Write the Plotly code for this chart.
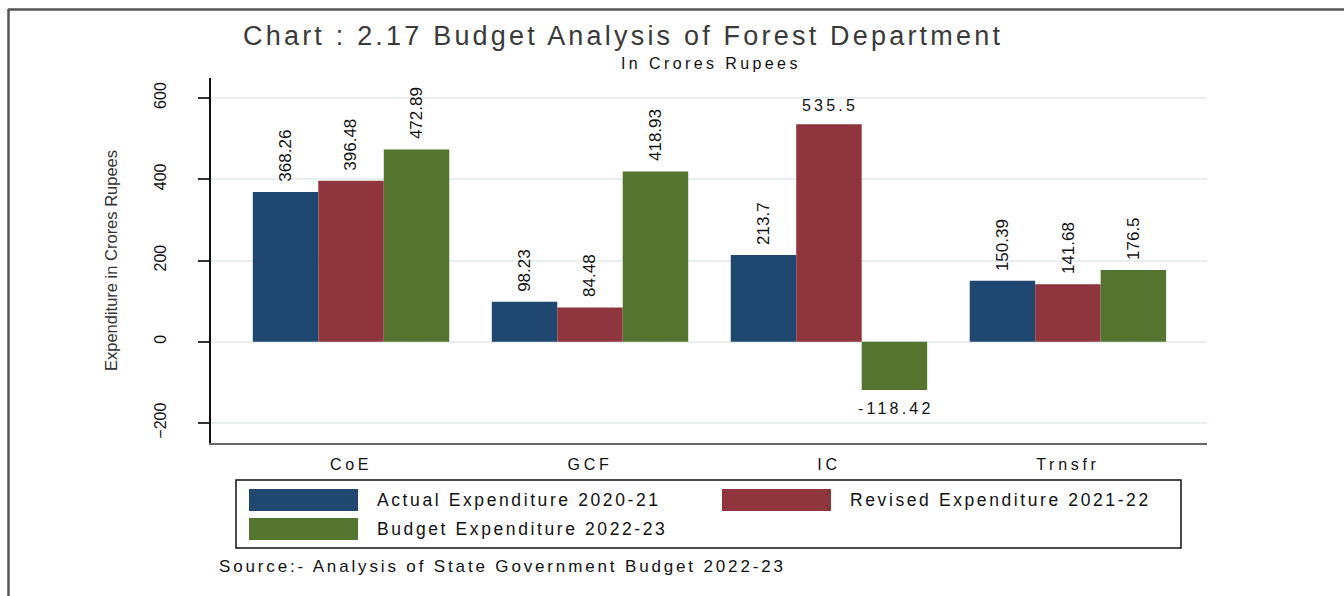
import plotly.graph_objects as go

# Budget heads and expenditure figures (in crores rupees)
categories = ["CoE", "GCF", "IC", "Trnsfr"]
series_names = [
    "Actual Expenditure 2020-21",
    "Revised Expenditure 2021-22",
    "Budget Expenditure 2022-23",
]
actual_2020_21 = [368.26, 98.23, 213.7, 150.39]
revised_2021_22 = [396.48, 84.48, 535.5, 141.68]
budget_2022_23 = [472.89, 418.93, -118.42, 176.5]
y_ticks = [-200, 0, 200, 400, 600]

series_values = [actual_2020_21, revised_2021_22, budget_2022_23]
colors = ["#1f476f", "#8e353e", "#55742f"]

FONT = "Liberation Sans, Arial, sans-serif"
W, H = 1344, 596
L, R, T, B = 211, 1207, 78, 443  # plot area in pixels


def px(x):
    return (x - L) / (R - L)


def py(y):
    return (B - y) / (B - T)


def spaced(text, sp):
    """Wide-set text via letter spacing."""
    return f'<span style="letter-spacing:{sp}px">{text}</span>'


fig = go.Figure()
for name, vals, col in zip(series_names, series_values, colors):
    fig.add_trace(go.Bar(
        x=categories, y=vals, name=name, marker_color=col,
        marker_line_width=0, showlegend=False,
    ))

# value labels above/below the bars
bar_px = 65.5
annotations = []
for i, vals in enumerate(series_values):
    shift = (i - 1) * bar_px
    for cat, v in zip(categories, vals):
        horizontal = v > 500 or v < 0
        annotations.append(dict(
            x=cat, y=v, xref="x", yref="y",
            text=spaced(str(v), 3.2) if horizontal else str(v),
            showarrow=False, xshift=shift + (1.5 if horizontal else 0),
            yshift=(8 if v >= 0 else -8),
            textangle=0 if horizontal else -90,
            yanchor="bottom" if v >= 0 else "top",
            xanchor="center",
            font=dict(family=FONT, size=16 if horizontal else 17, color="#111111"),
        ))

# title, subtitle, source
annotations += [
    dict(x=px(623), y=py(36), xref="paper", yref="paper",
         text=spaced("Chart : 2.17 Budget Analysis of Forest Department", 3.2),
         showarrow=False, xanchor="center", yanchor="middle",
         font=dict(family=FONT, size=27, color="#3a3a3a")),
    dict(x=px(711), y=py(63), xref="paper", yref="paper",
         text=spaced("In Crores Rupees", 3.4), showarrow=False,
         xanchor="center", yanchor="middle",
         font=dict(family=FONT, size=16, color="#111111")),
    dict(x=px(217), y=py(566), xref="paper", yref="paper",
         text=spaced("Source:- Analysis of State Government Budget 2022-23", 2.85),
         showarrow=False, xanchor="left", yanchor="middle",
         font=dict(family=FONT, size=17, color="#111111")),
]

shapes = []
# legend box
shapes.append(dict(type="rect", xref="paper", yref="paper",
                   x0=px(236), x1=px(1181), y0=py(480), y1=py(548),
                   line=dict(color="#111111", width=1.5), fillcolor="white"))
legend_pos = [(249, 500), (722, 500), (249, 529)]
for name, col, (lx, ly) in zip(series_names, colors, legend_pos):
    shapes.append(dict(type="rect", xref="paper", yref="paper",
                       x0=px(lx), x1=px(lx + 109), y0=py(ly - 11), y1=py(ly + 11),
                       line=dict(width=0), fillcolor=col))
    annotations.append(dict(x=px(lx + 126), y=py(ly), xref="paper", yref="paper",
                            text=spaced(name, 2.6), showarrow=False,
                            xanchor="left", yanchor="middle",
                            font=dict(family=FONT, size=17.5, color="#111111")))

# outer frame (top and left edges)
shapes.append(dict(type="line", xref="paper", yref="paper",
                   x0=px(8), x1=px(W + 5), y0=py(9.5), y1=py(9.5),
                   line=dict(color="#555555", width=2.5)))
shapes.append(dict(type="line", xref="paper", yref="paper",
                   x0=px(8.5), x1=px(8.5), y0=py(9), y1=py(H + 5),
                   line=dict(color="#555555", width=2.5)))

fig.update_layout(
    width=W, height=H,
    margin=dict(l=L, r=W - R, t=T, b=H - B, pad=0),
    paper_bgcolor="white", plot_bgcolor="white",
    barmode="group", bargap=0.178, bargroupgap=0,
    annotations=annotations, shapes=shapes,
    font=dict(family=FONT, size=15, color="#111111"),
)
fig.update_xaxes(
    range=[-0.586, 3.582], showgrid=False, showline=True,
    linecolor="#6a6a6a", linewidth=2, ticks="", ticklabelstandoff=6,
    tickvals=categories, ticktext=[spaced(c, 3.7) for c in categories],
    tickfont=dict(family=FONT, size=16, color="#111111"),
    zeroline=False,
)
fig.update_yaxes(
    range=[-249, 649], tickvals=y_ticks, tickangle=-90,
    showgrid=True, gridcolor="#e8eff1", gridwidth=1.5,
    showline=True, linecolor="#111111", linewidth=1.5,
    ticks="outside", ticklen=11, tickcolor="#333333", tickwidth=1.5,
    ticklabelstandoff=26,
    tickfont=dict(family=FONT, size=16, color="#111111"),
    zeroline=False,
    title=dict(text="Expenditure in Crores Rupees", standoff=30,
               font=dict(family=FONT, size=16.5, color="#333333")),
)

fig.write_html("out.html")
